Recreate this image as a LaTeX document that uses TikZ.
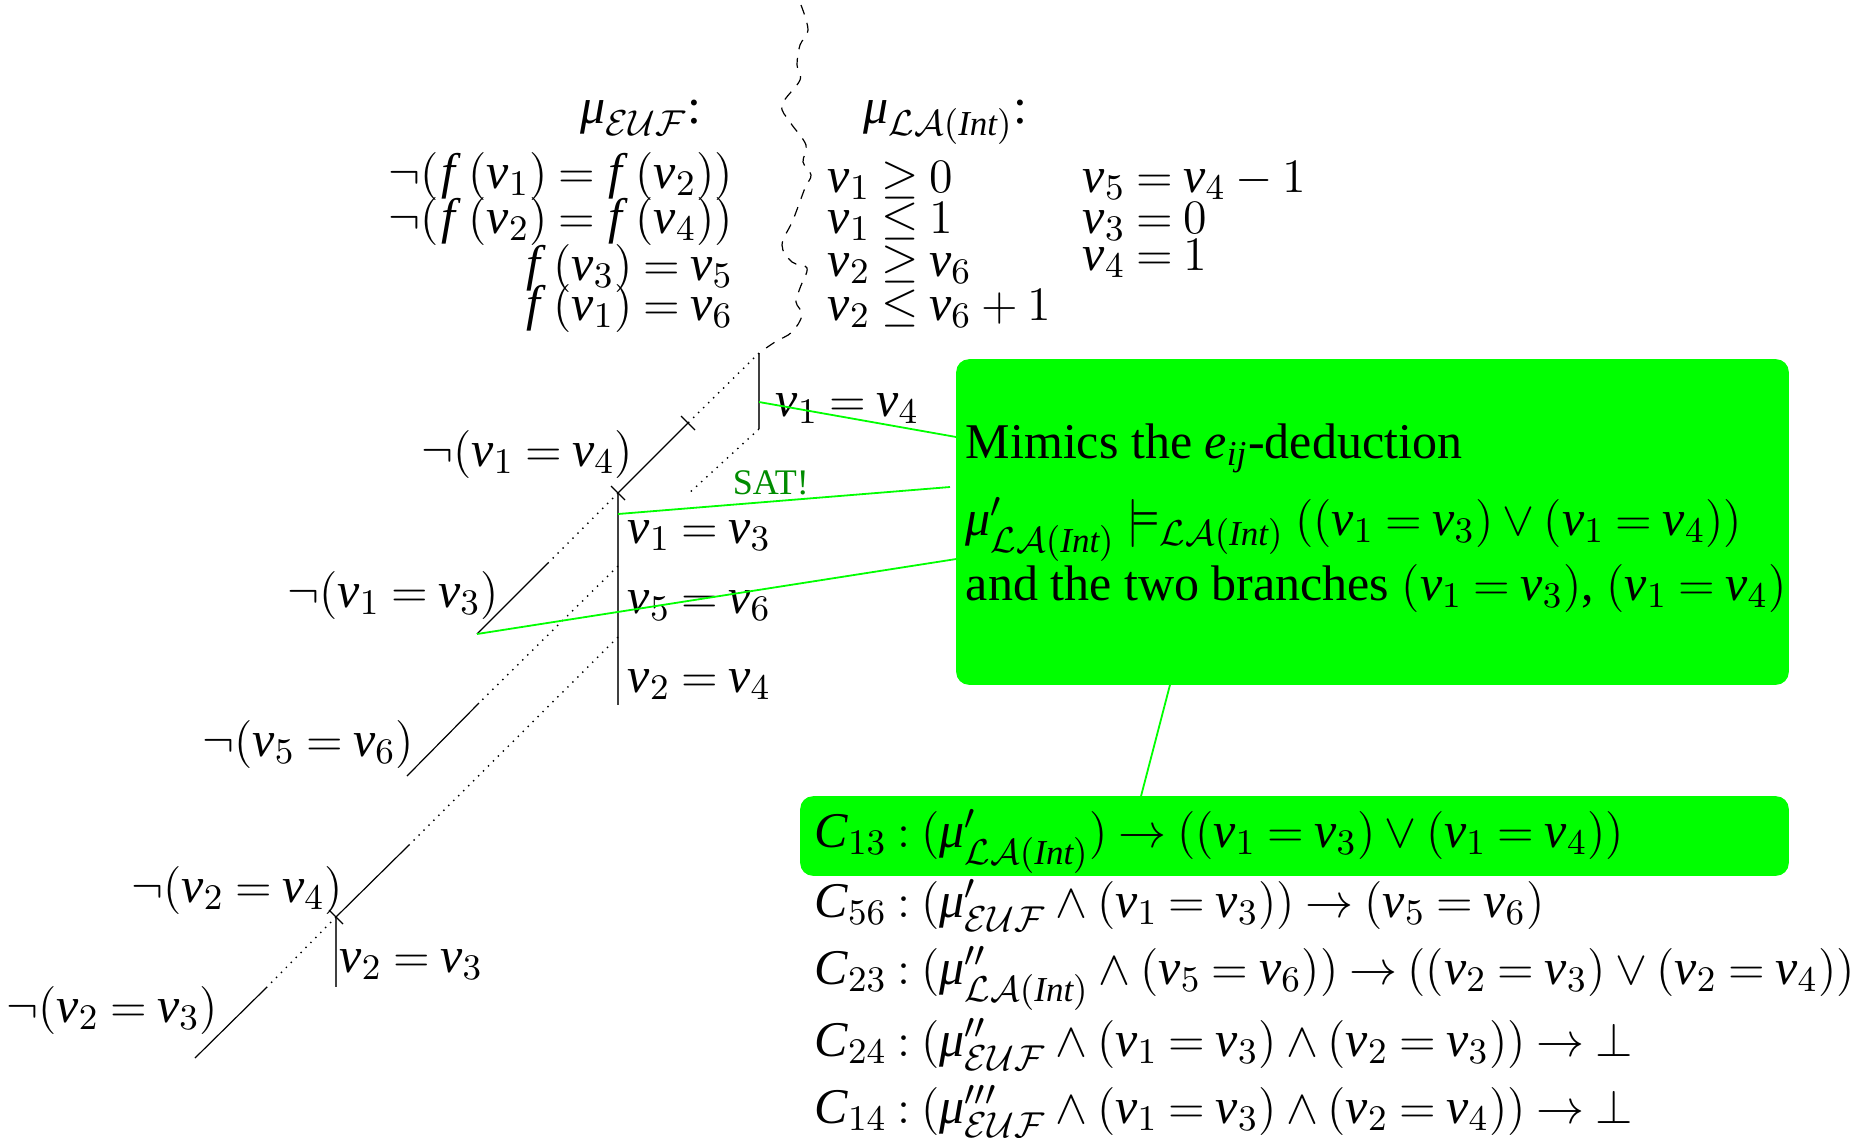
\documentclass[tikz,border=0pt]{standalone}
\usepackage{amsmath}
\usepackage{fontspec}
\setmainfont{Liberation Serif}
\definecolor{lgreen}{RGB}{0,255,0}
\definecolor{satgreen}{RGB}{0,140,0}
% Times-like letters and digits in math
\newcommand\mkitalic[1]{\begingroup\lccode`~=`#1\lowercase{\endgroup\def~}{\text{\itshape #1}}\mathcode`#1="8000\relax}
\newcommand\mkupright[1]{\begingroup\lccode`~=`#1\lowercase{\endgroup\def~}{\text{\upshape #1}}\mathcode`#1="8000\relax}
\mkitalic{v}\mkitalic{e}\mkitalic{i}\mkitalic{j}\mkitalic{n}\mkitalic{t}\mkitalic{I}\mkitalic{C}
\begingroup\lccode`~=`f\lowercase{\endgroup\def~}{\mkern1mu\text{\itshape f}\mkern5mu}\mathcode`f="8000\relax
\mkupright{0}\mkupright{1}\mkupright{2}\mkupright{3}\mkupright{4}\mkupright{5}\mkupright{6}
\newcommand\mmu{\text{\itshape μ}}
\thickmuskip=4mu plus 2mu
\medmuskip=3.5mu plus 2mu minus 3mu
\tikzset{
  t/.style={inner sep=0pt, font=\fontsize{12.5}{15}\selectfont},
  sat/.style={inner sep=0pt, font=\fontsize{9}{11}\selectfont, text=satgreen},
  gbox/.style={draw=lgreen, fill=lgreen, rounded corners=3pt, inner sep=0pt},
  gline/.style={draw=lgreen, line width=0.45pt},
  branch/.style={line width=0.3pt},
  dots/.style={line width=0.35pt, dash pattern=on 0.35pt off 1.4pt},
  unitln/.style={line width=0.45pt, draw=black!75},
  tickln/.style={line width=0.3pt},
  wavy/.style={line width=0.3pt, dash pattern=on 2.5pt off 2.2pt}
}
\begin{document}
\begin{tikzpicture}[x=0.25pt,y=-0.25pt]
\useasboundingbox (0,0) rectangle (1852,1137);

% boxes
\node[gbox, minimum width=207.75pt, minimum height=81pt] (box) at (1372.5,522) {};
\node[gbox, minimum width=246.75pt, minimum height=19.5pt, rounded corners=3pt] (cbox) at (1294.5,836) {};

% top formulas
\node[t, anchor=base west] (mueuf) at (580,123) {$\mmu_{\mathcal{EUF}}$:};
\node[t, anchor=base east] (e1) at (734,188) {$\neg(f(v_1) = f(v_2))$};
\node[t, anchor=base east] (e2) at (734,233) {$\neg(f(v_2) = f(v_4))$};
\node[t, anchor=base east] (e3) at (734,280) {$f(v_3) = v_5$};
\node[t, anchor=base east] (e4) at (734,320) {$f(v_1) = v_6$};

\node[t, anchor=base west] (mula) at (863,123) {$\mmu_{\mathcal{LA}(\mathit{Int})}$:};
\node[t, anchor=base west] (l1) at (827,192) {$v_1 \geq 0$};
\node[t, anchor=base west] (l2) at (827,233) {$v_1 \leq 1$};
\node[t, anchor=base west] (l3) at (827,276) {$v_2 \geq v_6$};
\node[t, anchor=base west] (l4) at (827,320) {$v_2 \leq v_6 + 1$};
\node[t, anchor=base west] (l5) at (1082,192) {$v_5 = v_4 - 1$};
\node[t, anchor=base west] (l6) at (1082,233) {$v_3 = 0$};
\node[t, anchor=base west] (l7) at (1082,270) {$v_4 = 1$};

% wavy separator
\draw[wavy] plot[smooth, tension=0.6] coordinates {(801,5) (808,30) (800,45) (797,65) (800,80) (782,105) (790,122) (806,145) (803,162) (811,175) (805,188) (793,220) (782,245) (792,262) (807,268) (800,288) (796,302) (802,315) (792,332) (775,342) (759,353)};

% tree coordinates
\coordinate (w0) at (759,353);
\coordinate (w1) at (759,429);
\coordinate (wend) at (687,495);
\coordinate (a1) at (688,423);
\coordinate (a2) at (618,493);
\coordinate (b1) at (618,705);
\coordinate (c1) at (548,563);
\coordinate (c2) at (477,634);
\coordinate (p1) at (618,566);
\coordinate (d1) at (479,703);
\coordinate (d2) at (407,776);
\coordinate (p2) at (618,637);
\coordinate (f0) at (409,845);
\coordinate (f1) at (336,917);
\coordinate (f2) at (336,987);
\coordinate (h1) at (267,987);
\coordinate (h2) at (195,1058);

% unit propagation verticals
\draw[unitln] (w0) -- (w1);
\draw[unitln] (a2) -- (b1);
\draw[unitln] (f1) -- (f2);

% dotted
\draw[dots] (w0) -- (a1);
\draw[dots] (w1) -- (wend);
\draw[dots] (a2) -- (c1);
\draw[dots] (p1) -- (d1);
\draw[dots] (p2) -- (f0);
\draw[dots] (f1) -- (h1);

% solid branches
\draw[branch] (a1) -- (a2);
\draw[branch] (c1) -- (c2);
\draw[branch] (d1) -- (d2);
\draw[branch] (f0) -- (f1);
\draw[branch] (h1) -- (h2);

% ticks
\draw[tickln] (a1) ++(-7,-7) -- ++(14,14);
\draw[tickln] (a2) ++(-7,-7) -- ++(14,14);
\draw[tickln] (f1) ++(-7,-7) -- ++(14,14);

% tree labels
\node[t, anchor=base west] (t14) at (775,416) {$v_1 = v_4$};
\node[t, anchor=base east] (n14) at (634,466) {$\neg(v_1 = v_4)$};
\node[t, anchor=base west] (t13) at (627,543) {$v_1 = v_3$};
\node[t, anchor=base west] (t56) at (627,613) {$v_5 = v_6$};
\node[t, anchor=base west] (t24) at (627,692) {$v_2 = v_4$};
\node[t, anchor=base east] (n13) at (500,607) {$\neg(v_1 = v_3)$};
\node[t, anchor=base east] (n56) at (415,756) {$\neg(v_5 = v_6)$};
\node[t, anchor=base east] (n24) at (344,902) {$\neg(v_2 = v_4)$};
\node[t, anchor=base west] (t23) at (339,972) {$v_2 = v_3$};
\node[t, anchor=base east] (n23) at (219,1022) {$\neg(v_2 = v_3)$};
\node[sat, anchor=base west] (satl) at (732,494) {SAT!};

% green connectors
\coordinate (g1) at (759,402);
\coordinate (g2) at (618,514);
\coordinate (g2e) at (950,487);
\draw[gline] (g1) -- (box.west |- 0,437);
\draw[gline] (g2) -- (g2e);
\draw[gline] (c2) -- (box.west |- 0,559);
\draw[gline] (box.south -| 1170,0) -- (cbox.north -| 1141,0);

% box text
\node[t, anchor=base west] (m1) at (965,458) {Mimics the $e_{ij}$-deduction};
\node[t, anchor=base west] (m2) at (965,535) {$\mmu'_{\mathcal{LA}(\mathit{Int})} \models_{\mathcal{LA}(\mathit{Int})} ((v_1 = v_3) \vee (v_1 = v_4))$};
\node[t, anchor=base west] (m3) at (965,600) {and the two branches $(v_1 = v_3)$, $(v_1 = v_4)$};

% clauses
\node[t, anchor=base west] (c13) at (814,847) {$C_{13} : (\mmu'_{\mathcal{LA}(\mathit{Int})}) \rightarrow ((v_1 = v_3) \vee (v_1 = v_4))$};
\node[t, anchor=base west] (c56) at (814,917) {$C_{56} : (\mmu'_{\mathcal{EUF}} \wedge (v_1 = v_3)) \rightarrow (v_5 = v_6)$};
\node[t, anchor=base west] (c23) at (814,984) {$C_{23} : (\mmu''_{\mathcal{LA}(\mathit{Int})} \wedge (v_5 = v_6)) \rightarrow ((v_2 = v_3) \vee (v_2 = v_4))$};
\node[t, anchor=base west] (c24) at (814,1056) {$C_{24} : (\mmu''_{\mathcal{EUF}} \wedge (v_1 = v_3) \wedge (v_2 = v_3)) \rightarrow \bot$};
\node[t, anchor=base west] (c14) at (814,1123) {$C_{14} : (\mmu'''_{\mathcal{EUF}} \wedge (v_1 = v_3) \wedge (v_2 = v_4)) \rightarrow \bot$};
\end{tikzpicture}
\end{document}
